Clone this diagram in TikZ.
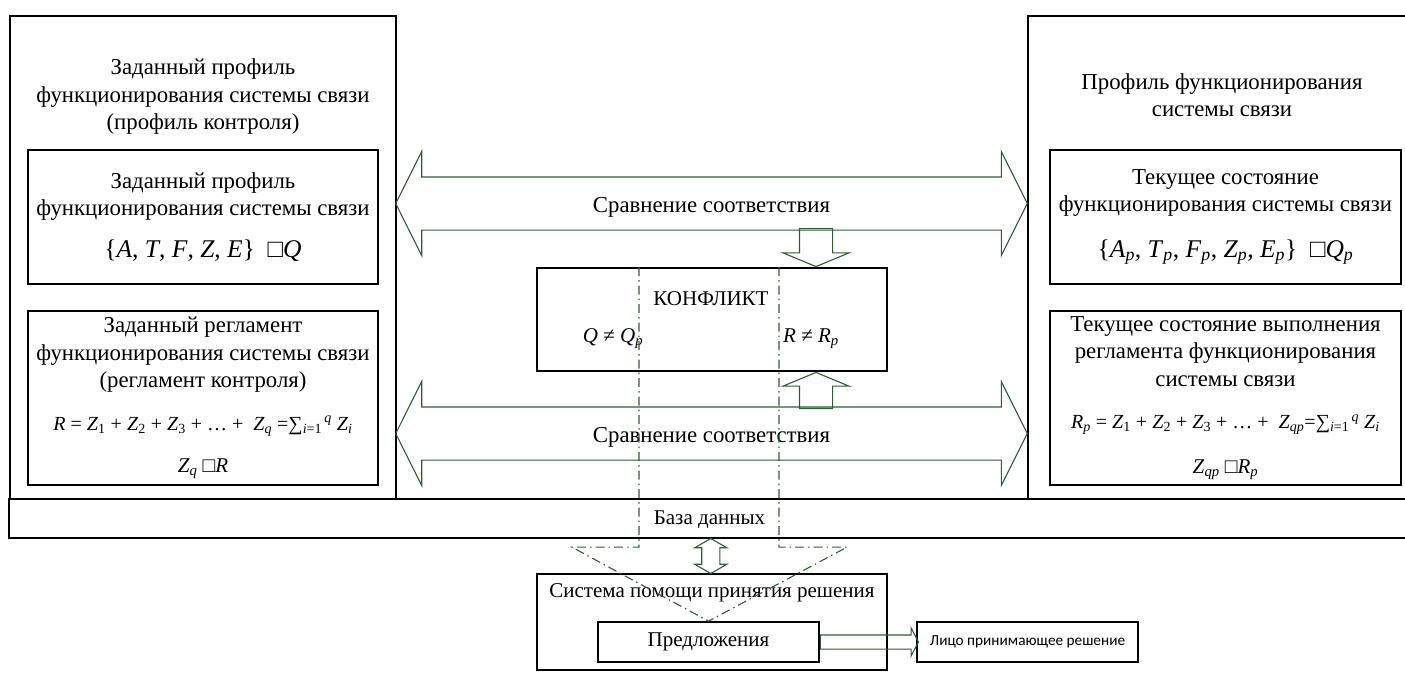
\documentclass[tikz,border=0pt]{standalone}
\usepackage{fontspec}
\setmainfont{Liberation Serif}
\newfontfamily\lprfont{Carlito}
\usetikzlibrary{shapes.arrows, positioning, calc}
\definecolor{arrgreen}{RGB}{45,95,50}
\newcommand{\bigfrm}{\fontsize{25.5}{28}\selectfont}
\newcommand{\sumfrm}{\fontsize{20}{24}\selectfont}
\newcommand{\plainfrm}{\fontsize{21}{24}\selectfont}

\begin{document}
\begin{tikzpicture}[
		x=1pt, y=-1pt,
		font=\fontsize{21}{27.5}\selectfont,
		% Black framed blocks
		blk-box/.style={draw, line width=1.7pt, inner sep=0pt, align=center},
		big-txt/.style={font=\fontsize{22.8}{27.5}\selectfont},
		% Green hollow arrows
		cmp-arrow/.style={double arrow, draw=arrgreen, line width=1.1pt, inner sep=0pt,
			text height=35pt, text depth=17pt, minimum height=631.5pt,
			double arrow head extend=25.5pt, double arrow tip angle=127, big-txt},
		blk-arrow/.style={single arrow, draw=arrgreen, line width=1.1pt, inner xsep=0pt},
		% Trace of the conflict down to the proposals
		dd-line/.style={draw=arrgreen, line width=1.1pt, dash pattern=on 9pt off 4pt on 1.5pt off 4pt}
	]
	\useasboundingbox (0,0) rectangle (1405,672);
	
	% ==============================================================================
	% LEFT: given profile (control profile)
	% ==============================================================================
	\node[blk-box, minimum width=386pt, minimum height=483pt] (lout) at (203,257.5) {};
	\node[big-txt, align=center] (ltitle) at (203,97) {Заданный профиль\\функционирования системы связи\\(профиль контроля)};
	
	\node[blk-box, big-txt, minimum width=350pt, minimum height=134pt] (lprof) at (203,217) {
		Заданный профиль\\функционирования системы связи\\[14pt]
		{\bigfrm \{\textit{A}, \textit{T}, \textit{F}, \textit{Z}, \textit{E}\}\ \ □\textit{Q}}
	};
	\node[blk-box, big-txt, minimum width=350pt, minimum height=174pt] (lreg) at (203,398) {
		Заданный регламент\\функционирования системы связи\\(регламент контроля)\\[15pt]
		{\sumfrm\textit{R} = \textit{Z}\textsubscript{1} + \textit{Z}\textsubscript{2} + \textit{Z}\textsubscript{3} + … +\ \ \textit{Z}\textsubscript{\textit{q}} =∑\textsubscript{\textit{i}=1}\textsuperscript{\,\textit{q}} \textit{Z}\textsubscript{\textit{i}}}\\[15pt]
		{\plainfrm\textit{Z}\textsubscript{\textit{q}} □\textit{R}}
	};
	
	% ==============================================================================
	% RIGHT: current operating profile
	% ==============================================================================
	\node[blk-box, minimum width=382pt, minimum height=483pt] (rout) at (1219,257.5) {};
	\node[big-txt, align=center] (rtitle) at (1222,95) {Профиль функционирования\\системы связи};
	
	\node[blk-box, big-txt, minimum width=351pt, minimum height=134pt] (rprof) at (1225.5,217) {
		Текущее состояние\\функционирования системы связи\\[18pt]
		{\bigfrm \{\textit{A}\textsubscript{\textit{p}}, \textit{T}\textsubscript{\textit{p}}, \textit{F}\textsubscript{\textit{p}}, \textit{Z}\textsubscript{\textit{p}}, \textit{E}\textsubscript{\textit{p}}\}\ \ □\textit{Q}\textsubscript{\textit{p}}}
	};
	\node[blk-box, big-txt, minimum width=351pt, minimum height=174pt] (rreg) at (1225.5,398) {
		Текущее состояние выполнения\\регламента функционирования\\системы связи\\[15pt]
		{\sumfrm\textit{R}\textsubscript{\textit{p}} = \textit{Z}\textsubscript{1} + \textit{Z}\textsubscript{2} + \textit{Z}\textsubscript{3} + … +\ \ \textit{Z}\textsubscript{\textit{qp}}=∑\textsubscript{\textit{i}=1}\textsuperscript{\,\textit{q}} \textit{Z}\textsubscript{\textit{i}}}\\[17pt]
		{\plainfrm\textit{Z}\textsubscript{\textit{qp}} □\textit{R}\textsubscript{\textit{p}}}
	};
	
	% database strip under both columns
	\node[blk-box, minimum width=1401pt, minimum height=39pt, text height=16pt, text depth=4pt] (db) at (709.5,518.5) {База данных};
	
	% ==============================================================================
	% MIDDLE: comparison and conflict
	% ==============================================================================
	\node[blk-box, minimum width=350pt, minimum height=103pt] (konf) at (712,319.5) {};
	\node (konft) at (711,299) {КОНФЛИКТ};
	\node (qneq) at (613,339) {\textit{Q} ≠ \textit{Q}\textsubscript{\textit{p}}};
	\node (rneq) at (811,339) {\textit{R} ≠ \textit{R}\textsubscript{\textit{p}}};
	
	\node[cmp-arrow] (cmp1) at (711.5,203.5) {Сравнение соответствия};
	\node[cmp-arrow] (cmp2) at (711.5,433.5) {Сравнение соответствия};
	
	\node[blk-arrow, rotate=-90, anchor=tip, minimum height=38pt, inner ysep=16pt,
		single arrow head extend=16.5pt, single arrow tip angle=135] (dn) at ($(konf.north)+(104,0)$) {};
	\node[blk-arrow, rotate=90, anchor=tip, minimum height=36pt, inner ysep=16pt,
		single arrow head extend=16.5pt, single arrow tip angle=135] (up) at ($(konf.south)+(104,0)$) {};
	
	% ==============================================================================
	% BOTTOM: decision support
	% ==============================================================================
	\node[blk-box, minimum width=350pt, minimum height=96pt] (sppr) at (712,622) {};
	\node (spprt) at (712,593) {Система помощи принятия решения};
	\node[blk-box, minimum width=221pt, minimum height=40pt] (offer) at (708.5,642) {Предложения};
	\node[blk-box, minimum width=221pt, minimum height=40pt, font=\lprfont\fontsize{15.3}{18}\selectfont] (lico) at (1027.5,642) {Лицо принимающее решение};
	
	\node[double arrow, draw=arrgreen, line width=1.1pt, inner xsep=0pt, inner ysep=8.5pt, rotate=90,
		minimum height=35pt, double arrow head extend=7pt,
		double arrow tip angle=120] (dbarr) at ($(db.south)!.5!(sppr.north)$) {};
	\node[blk-arrow, anchor=tail, minimum height=98pt, inner ysep=6.5pt,
		single arrow head extend=7pt, single arrow tip angle=125] (outarr) at (offer.east) {};
	
	% conflict traced down into the proposals
	\draw[dd-line] ($(konf.north)+(-73,0)$) -- ($(konf.north)+(-73,280)$) -- ($(konf.north)+(-140,280)$) -- (offer.north);
	\draw[dd-line] ($(konf.north)+(67,0)$) -- ($(konf.north)+(67,280)$) -- ($(konf.north)+(135,280)$) -- (offer.north);
\end{tikzpicture}
\end{document}
